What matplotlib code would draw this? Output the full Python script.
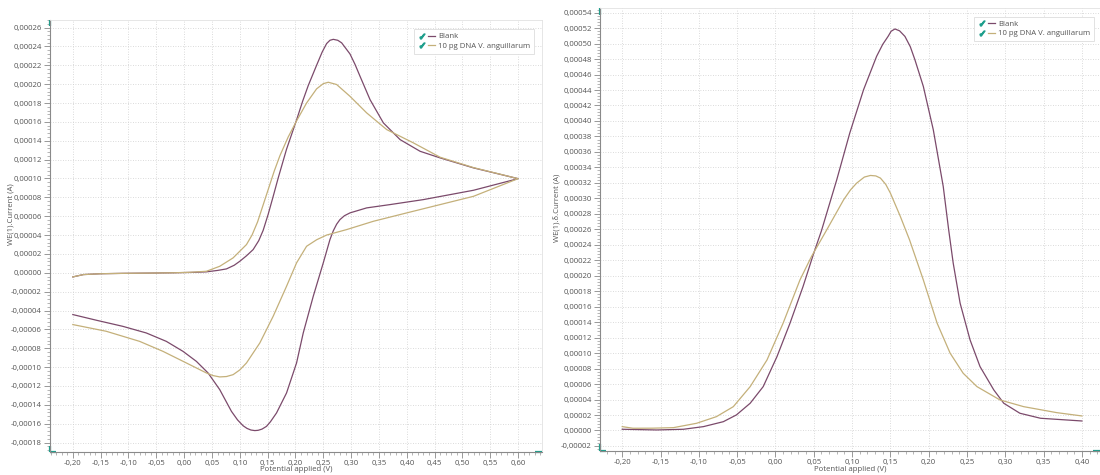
import matplotlib
matplotlib.use("Agg")
import matplotlib.pyplot as plt
from matplotlib.lines import Line2D
from matplotlib.legend_handler import HandlerTuple
from matplotlib.ticker import MultipleLocator, AutoMinorLocator, FuncFormatter

plt.rcParams['font.family'] = ['Open Sans', 'DejaVu Sans']

blank_color = '#7b4a6b'
dna_color = '#c4b07a'
check_color = '#1f9e8c'
labels = ['Blank', '10 pg DNA V. anguillarum']

# cyclic voltammetry, full loop (forward then reverse scan)
cv_blank_e = [-0.200, -0.181, -0.150, -0.110, -0.060, -0.020, 0.020, 0.040, 0.060, 0.076,
              0.090, 0.100, 0.112, 0.124, 0.134, 0.142, 0.151, 0.160, 0.169, 0.184,
              0.202, 0.213, 0.223, 0.238, 0.248, 0.256, 0.262, 0.268, 0.276, 0.283,
              0.298, 0.307, 0.316, 0.334, 0.358, 0.388, 0.424, 0.460, 0.520, 0.600,
              0.520, 0.430, 0.370, 0.328, 0.298, 0.288, 0.280, 0.274, 0.268, 0.262,
              0.250, 0.232, 0.214, 0.202, 0.184, 0.166, 0.155, 0.148, 0.140, 0.133,
              0.127, 0.120, 0.113, 0.106, 0.096, 0.085, 0.064, 0.043, 0.022, -0.002,
              -0.032, -0.068, -0.110, -0.157, -0.200]
cv_blank_i = [-0.0000044, -0.0000019, -0.0000010, -0.0000006, -0.0000003, 0.0, 0.0000005,
              0.0000010, 0.0000025, 0.0000041, 0.0000080, 0.0000122, 0.0000180, 0.0000246,
              0.0000340, 0.0000450, 0.0000620, 0.0000810, 0.0001005, 0.0001310, 0.0001620,
              0.0001820, 0.0001985, 0.0002200, 0.0002340, 0.0002430, 0.0002465, 0.0002475,
              0.0002465, 0.0002438, 0.0002320, 0.0002210, 0.0002084, 0.0001836, 0.0001589,
              0.0001412, 0.0001288, 0.0001218, 0.0001112, 0.0000998,
              0.0000875, 0.0000776, 0.0000723, 0.0000688, 0.0000635, 0.0000605, 0.0000564,
              0.0000515, 0.0000445, 0.0000352, 0.0000105, -0.0000249, -0.0000638,
              -0.0000956, -0.0001274, -0.0001486, -0.0001580, -0.0001628, -0.0001657,
              -0.0001670, -0.0001673, -0.0001667, -0.0001650, -0.0001622, -0.0001560,
              -0.0001469, -0.0001239, -0.0001062, -0.0000939, -0.0000833, -0.0000727,
              -0.0000638, -0.0000568, -0.0000504, -0.0000443]

cv_dna_e = [-0.200, -0.181, -0.150, -0.110, -0.060, -0.020, 0.010, 0.040, 0.064, 0.088,
            0.112, 0.122, 0.132, 0.142, 0.152, 0.162, 0.172, 0.187, 0.202, 0.220,
            0.238, 0.250, 0.259, 0.274, 0.298, 0.328, 0.364, 0.412, 0.460, 0.520, 0.600,
            0.520, 0.460, 0.400, 0.340, 0.292, 0.256, 0.238, 0.220, 0.202, 0.184,
            0.160, 0.136, 0.112, 0.100, 0.088, 0.076, 0.064, 0.052, 0.040, 0.004,
            -0.038, -0.080, -0.140, -0.200]
cv_dna_i = [-0.0000044, -0.0000019, -0.0000010, -0.0000006, -0.0000003, 0.0, 0.0000005,
            0.0000016, 0.0000069, 0.0000158, 0.0000299, 0.0000400, 0.0000540, 0.0000720,
            0.0000900, 0.0001080, 0.0001240, 0.0001440, 0.0001610, 0.0001800, 0.0001950,
            0.0002005, 0.0002020, 0.0001996, 0.0001871, 0.0001695, 0.0001518, 0.0001377,
            0.0001225, 0.0001115, 0.0000998,
            0.0000811, 0.0000723, 0.0000635, 0.0000546, 0.0000458, 0.0000400, 0.0000350,
            0.0000281, 0.0000105, -0.0000143, -0.0000461, -0.0000744, -0.0000956,
            -0.0001030, -0.0001080, -0.0001100, -0.0001104, -0.0001090, -0.0001062,
            -0.0000956, -0.0000833, -0.0000727, -0.0000620, -0.0000549]

# differential pulse voltammetry
dpv_blank_e = [-0.200, -0.155, -0.120, -0.094, -0.068, -0.051, -0.033, -0.016, 0.002, 0.019,
               0.036, 0.050, 0.060, 0.080, 0.097, 0.115, 0.132, 0.140, 0.147, 0.151,
               0.156, 0.162, 0.169, 0.176, 0.182, 0.193, 0.206, 0.219, 0.226, 0.232,
               0.241, 0.254, 0.267, 0.285, 0.298, 0.319, 0.346, 0.400]
dpv_blank_i = [0.0000016, 0.0000007, 0.0000016, 0.0000050, 0.0000114, 0.0000201, 0.0000352,
               0.0000567, 0.0000955, 0.0001387, 0.0001860, 0.0002292, 0.0002580, 0.0003240,
               0.0003844, 0.0004404, 0.0004835, 0.0004990, 0.0005093, 0.0005160, 0.0005189,
               0.0005165, 0.0005093, 0.0004960, 0.0004792, 0.0004447, 0.0003887, 0.0003153,
               0.0002600, 0.0002163, 0.0001646, 0.0001171, 0.0000826, 0.0000524, 0.0000352,
               0.0000223, 0.0000158, 0.0000123]

dpv_dna_e = [-0.200, -0.186, -0.160, -0.133, -0.103, -0.077, -0.055, -0.033, -0.011, 0.010,
             0.032, 0.047, 0.067, 0.089, 0.098, 0.106, 0.116, 0.124, 0.131, 0.137,
             0.144, 0.150, 0.163, 0.175, 0.193, 0.211, 0.228, 0.245, 0.263, 0.293,
             0.324, 0.367, 0.400]
dpv_dna_i = [0.0000050, 0.0000029, 0.0000030, 0.0000037, 0.0000093, 0.0000179, 0.0000308,
             0.0000567, 0.0000912, 0.0001387, 0.0001946, 0.0002248, 0.0002594, 0.0002982,
             0.0003110, 0.0003197, 0.0003275, 0.0003296, 0.0003290, 0.0003262, 0.0003180,
             0.0003068, 0.0002766, 0.0002464, 0.0001946, 0.0001387, 0.0000999, 0.0000740,
             0.0000567, 0.0000395, 0.0000308, 0.0000231, 0.0000188]


def comma(fmt):
    def f(v, pos):
        if abs(v) < 1e-12:
            v = 0.0
        return fmt.format(v).replace('.', ',')
    return FuncFormatter(f)


def style_axes(ax, ylabel):
    ax.yaxis.set_major_locator(MultipleLocator(0.00002))
    ax.yaxis.set_minor_locator(AutoMinorLocator(5))
    ax.xaxis.set_major_locator(MultipleLocator(0.05))
    ax.xaxis.set_minor_locator(AutoMinorLocator(5))
    ax.yaxis.set_major_formatter(comma('{:.5f}'))
    ax.xaxis.set_major_formatter(comma('{:.2f}'))
    ax.tick_params(which='major', direction='out', length=4, width=0.6,
                   color='#888888', labelsize=5.6, labelcolor='#555555', pad=2)
    ax.tick_params(which='minor', direction='out', length=2, width=0.5, color='#999999')
    ax.grid(True, which='major', linestyle=(0, (1, 2)), linewidth=0.6, color='#cfcfcf')
    for side in ['top', 'right']:
        ax.spines[side].set_color('#e2e2e2')
        ax.spines[side].set_linewidth(0.6)
    for side in ['left', 'bottom']:
        ax.spines[side].set_color('#8a8a8a')
        ax.spines[side].set_linewidth(0.8)
    ax.set_ylabel(ylabel, fontsize=5.6, color='#555555')
    ax.set_xlabel('Potential applied (V)', fontsize=5.6, color='#555555')
    # teal end markers on the axes lines
    kw = dict(transform=ax.transAxes, color=check_color, lw=1.6, clip_on=False,
              solid_capstyle='butt')
    ax.plot([0, 0], [0.985, 1.0], **kw)
    ax.plot([0, 0], [0.0, 0.015], **kw)
    ax.plot([0, 0.012], [0, 0], **kw)
    ax.plot([0.985, 1.0], [0, 0], **kw)


def add_legend(ax, anchor, loc):
    check = dict(marker='$\\checkmark$', color=check_color, ls='', markersize=3.6)
    handles = [(Line2D([], [], **check), Line2D([], [], color=blank_color, lw=0.9)),
               (Line2D([], [], **check), Line2D([], [], color=dna_color, lw=0.9))]
    leg = ax.legend(handles, labels, handler_map={tuple: HandlerTuple(ndivide=None, pad=0.3)},
                    loc=loc, bbox_to_anchor=anchor, fontsize=5.6, handlelength=2.2,
                    handletextpad=0.4, borderpad=0.5, labelspacing=0.25,
                    fancybox=False, framealpha=1.0, edgecolor='#dddddd')
    leg.get_frame().set_linewidth(0.6)
    for t in leg.get_texts():
        t.set_color('#555555')


fig = plt.figure(figsize=(11, 4.75), dpi=100)

ax1 = fig.add_axes([50 / 1100, 23 / 475, 492 / 1100, 432 / 475])
ax1.plot(cv_blank_e, cv_blank_i, color=blank_color, lw=0.9)
ax1.plot(cv_dna_e, cv_dna_i, color=dna_color, lw=0.9)
ax1.set_xlim(-0.241, 0.643)
ax1.set_ylim(-0.000190, 0.000268)
style_axes(ax1, 'WE(1).Current (A)')
ax1.yaxis.set_label_coords(-0.072, 0.55)
ax1.xaxis.set_label_coords(0.5, -0.033)
add_legend(ax1, (0.992, 0.988), 'upper right')

ax2 = fig.add_axes([600 / 1100, 24 / 475, 500 / 1100, 443 / 475])
ax2.plot(dpv_blank_e, dpv_blank_i, color=blank_color, lw=0.9)
ax2.plot(dpv_dna_e, dpv_dna_i, color=dna_color, lw=0.9)
ax2.set_xlim(-0.229, 0.4236)
ax2.set_ylim(-0.0000265, 0.000546)
style_axes(ax2, 'WE(1).δ.Current (A)')
ax2.yaxis.set_label_coords(-0.08, 0.55)
ax2.xaxis.set_label_coords(0.5, -0.033)
add_legend(ax2, (0.996, 0.989), 'upper right')

fig.savefig('out.png', dpi=100)
